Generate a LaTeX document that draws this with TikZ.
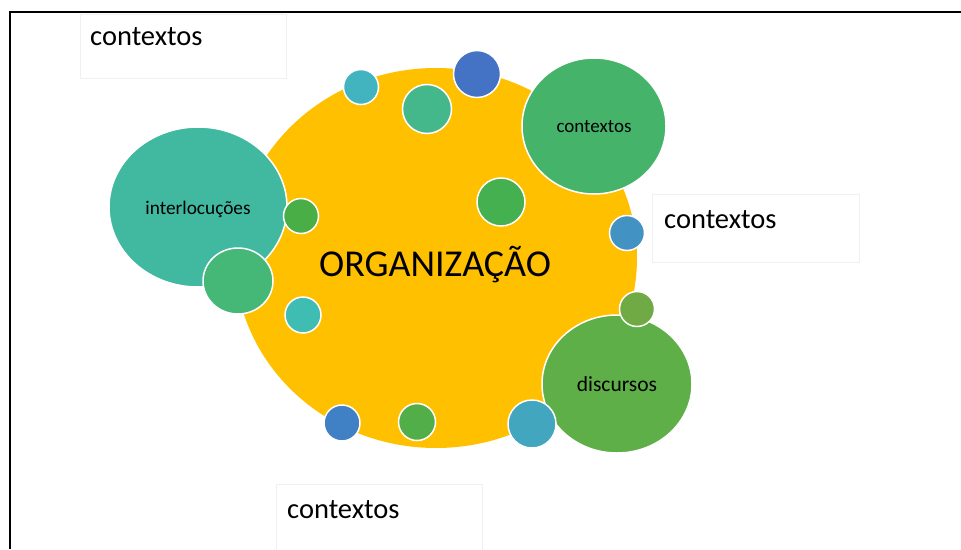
\documentclass[tikz,border=0pt]{standalone}
\usepackage{fontspec}
\setmainfont{Carlito}
\usetikzlibrary{shapes.geometric}
\definecolor{cYellow}{HTML}{FFC000}
\definecolor{cTealA}{HTML}{41B8A0}
\definecolor{cGreenA}{HTML}{45B878}
\definecolor{cGreenB}{HTML}{4AAE47}
\definecolor{cTealB}{HTML}{40BDB2}
\definecolor{cTealC}{HTML}{42B4C0}
\definecolor{cGreenC}{HTML}{44B88A}
\definecolor{cBlueA}{HTML}{4472C4}
\definecolor{cGreenD}{HTML}{45B050}
\definecolor{cGreenCtx}{HTML}{45B46A}
\definecolor{cBlueB}{HTML}{4293C4}
\definecolor{cGreenDisc}{HTML}{5EAF47}
\definecolor{cOlive}{HTML}{6FAA45}
\definecolor{cTealD}{HTML}{41A6BE}
\definecolor{cBlueC}{HTML}{4080C4}
\definecolor{cGreenE}{HTML}{52AE48}
\definecolor{cBoxLine}{HTML}{F0F0F0}
\tikzset{
  bubble/.style={ellipse, draw=white, line width=1.5pt, inner sep=0pt},
  ctxbox/.style={draw=cBoxLine, line width=0.8pt},
  outtxt/.style={anchor=base west, inner sep=0pt, font=\fontsize{28.5}{30}\selectfont},
}
\begin{document}
\begin{tikzpicture}[x=1pt,y=-1pt]
\useasboundingbox (0,0) rectangle (961,549);
% frame
\coordinate (fTR) at (961,12);
\coordinate (fTL) at (10,12);
\coordinate (fBL) at (10,549);
\draw[line width=2.2pt, black] (fTR) -- (fTL) -- (fBL);
% text boxes
\node[ctxbox, minimum width=206pt, minimum height=64pt, anchor=north west] (boxA) at (80,14) {};
\node[ctxbox, minimum width=207pt, minimum height=68pt, anchor=north west] (boxB) at (652,194) {};
\node[ctxbox, minimum width=206pt, minimum height=80pt, anchor=north west] (boxC) at (276,484) {};
\node[outtxt] (tA) at (90,45) {contextos};
\node[outtxt] (tB) at (664,228) {contextos};
\node[outtxt] (tC) at (287,518) {contextos};
% main yellow
\node[ellipse, fill=cYellow, inner sep=0pt, minimum width=402pt, minimum height=380pt] (org) at (436,258) {};
\node[anchor=base, inner sep=0pt, font=\fontsize{38}{40}\selectfont] (orgT) at (435,276) {ORGANIZAÇÃO};
% bubbles
\node[bubble, fill=cTealA, minimum width=178pt, minimum height=160pt] (interl) at (198,207) {};
\node[anchor=base, inner sep=0pt, font=\fontsize{19.3}{21}\selectfont] (interlT) at (198,214) {interlocuções};
\node[bubble, fill=cGreenA, minimum width=70pt, minimum height=66pt] (gA) at (238,281) {};
\node[bubble, fill=cGreenB, minimum width=35pt, minimum height=35pt] (gB) at (301,216) {};
\node[bubble, fill=cTealB, minimum width=36pt, minimum height=36pt] (tTa) at (303,315) {};
\node[bubble, fill=cTealC, minimum width=35pt, minimum height=35pt] (tTb) at (361,87) {};
\node[bubble, fill=cGreenC, minimum width=49pt, minimum height=49pt] (gC) at (427,109) {};
\node[bubble, fill=cBlueA, minimum width=47pt, minimum height=47pt] (bA) at (477,74) {};
\node[bubble, fill=cGreenD, minimum width=48pt, minimum height=48pt] (gD) at (501,202) {};
\node[bubble, fill=cGreenCtx, minimum width=144pt, minimum height=136pt] (ctx) at (594,126) {};
\node[anchor=base, inner sep=0pt, font=\fontsize{19}{21}\selectfont] (ctxT) at (594,132) {contextos};
\node[bubble, fill=cBlueB, minimum width=35pt, minimum height=35pt] (bB) at (627,233) {};
\node[bubble, fill=cGreenDisc, minimum width=150pt, minimum height=138pt] (disc) at (617,384) {};
\node[anchor=base, inner sep=0pt, font=\fontsize{21.5}{23}\selectfont] (discT) at (617,391) {discursos};
\node[bubble, fill=cOlive, minimum width=35pt, minimum height=35pt] (oA) at (637,309) {};
\node[bubble, fill=cTealD, minimum width=48pt, minimum height=48pt] (tTd) at (532,424) {};
\node[bubble, fill=cBlueC, minimum width=36pt, minimum height=36pt] (bC) at (342,423) {};
\node[bubble, fill=cGreenE, minimum width=37pt, minimum height=37pt] (gE) at (417,422) {};
\end{tikzpicture}
\end{document}
